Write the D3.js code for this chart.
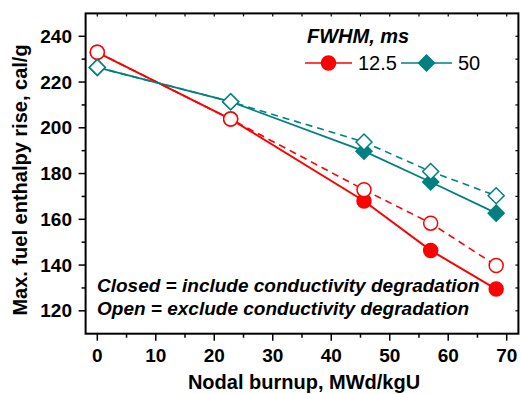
<!DOCTYPE html>
<html>
<head>
<meta charset="utf-8">
<script src="https://cdn.jsdelivr.net/npm/d3@7"></script>
<style>
  html, body { margin: 0; padding: 0; background: #fff; }
  svg { display: block; font-family: "Liberation Sans", Arial, sans-serif; }
</style>
</head>
<body>
<svg id="chart" width="522" height="394"></svg>
<script>
// ---- data ----
const burnup = [0, 22.8, 45.6, 57.0, 68.2];
const fwhm125Closed = [233, 203.8, 168.0, 146.4, 129.5];
const fwhm125Open   = [233, 203.8, 172.9, 158.3, 139.8];
const fwhm50Closed  = [226.4, 211.4, 189.8, 176.3, 162.7];
const fwhm50Open    = [226.4, 211.4, 193.8, 180.9, 170.3];
const xTicks = [0, 10, 20, 30, 40, 50, 60, 70];
const yTicks = [120, 140, 160, 180, 200, 220, 240];
const legendLabels = ["12.5", "50"];
const legendTitle = "FWHM, ms";
const noteLines = ["Closed = include conductivity degradation", "Open = exclude conductivity degradation"];
const xTitle = "Nodal burnup, MWd/kgU";
const yTitle = "Max. fuel enthalpy rise, cal/g";

const RED = "#ff0000", TEAL = "#008080";

const svg = d3.select("#chart");
const x = d3.scaleLinear().domain([-2, 72]).range([85.6, 518.4]);
const y = d3.scaleLinear().domain([110, 250]).range([333.7, 13.4]);
const [x0, x1] = x.range();
const [yb, yt] = y.range();

// minor ticks
const xMinor = d3.range(0, 71, 5);
const yMinor = d3.range(120, 250, 10);

const axes = svg.append("g").attr("stroke", "#000").attr("fill", "none");
// bottom ticks (outward)
xMinor.forEach(v => {
  const major = v % 10 === 0;
  axes.append("line").attr("x1", x(v)).attr("x2", x(v)).attr("y1", yb).attr("y2", yb + (major ? 7 : 4)).attr("stroke-width", 1.5);
  axes.append("line").attr("x1", x(v)).attr("x2", x(v)).attr("y1", yt).attr("y2", yt + (major ? 3 : 3)).attr("stroke-width", 1.2);
});
yMinor.forEach(v => {
  const major = v % 20 === 0;
  axes.append("line").attr("y1", y(v)).attr("y2", y(v)).attr("x1", x0).attr("x2", x0 - (major ? 7 : 4)).attr("stroke-width", 1.5);
  axes.append("line").attr("y1", y(v)).attr("y2", y(v)).attr("x1", x1).attr("x2", x1 - 3).attr("stroke-width", 1.2);
});
// frame
axes.append("rect").attr("x", x0).attr("y", yt).attr("width", x1 - x0).attr("height", yb - yt).attr("stroke-width", 2);

// tick labels
const tl = svg.append("g").attr("font-size", 19).attr("font-weight", "bold").attr("fill", "#000");
xTicks.forEach(v => tl.append("text").attr("x", x(v)).attr("y", 361.5).attr("text-anchor", "middle").text(v));
yTicks.forEach(v => tl.append("text").attr("x", 72).attr("y", y(v)).attr("dy", "0.35em").attr("text-anchor", "end").text(v));

// axis titles
svg.append("text").attr("x", 304).attr("y", 389).attr("text-anchor", "middle")
  .attr("font-size", 20).attr("font-weight", "bold").text(xTitle);
svg.append("text").attr("transform", "translate(27,180) rotate(-90)").attr("text-anchor", "middle")
  .attr("font-size", 20).attr("font-weight", "bold").text(yTitle);

// series
const series = [
  { vals: fwhm125Closed, color: RED, open: false, shape: "circle", dash: null, w: 2 },
  { vals: fwhm50Closed, color: TEAL, open: false, shape: "diamond", dash: null, w: 1.8 },
  { vals: fwhm125Open, color: RED, open: true, shape: "circle", dash: "7,5", w: 1.6 },
  { vals: fwhm50Open, color: TEAL, open: true, shape: "diamond", dash: "7,5", w: 1.6 },
];
const line = d3.line().x((d, i) => x(burnup[i])).y(d => y(d));
const lg = svg.append("g");
series.forEach(s => {
  lg.append("path").datum(s.vals).attr("d", line).attr("fill", "none")
    .attr("stroke", s.color).attr("stroke-width", s.w)
    .attr("stroke-dasharray", s.dash);
});
const circleSym = d3.symbol().type(d3.symbolCircle).size(Math.PI * 49);
function diamondPath(cx, cy, r) {
  return `M${cx},${cy - r}L${cx + r},${cy}L${cx},${cy + r}L${cx - r},${cy}Z`;
}
function drawMarker(g, shape, cx, cy, color, open) {
  if (shape === "circle") {
    g.append("path").attr("d", circleSym()).attr("transform", `translate(${cx},${cy})`)
      .attr("fill", open ? "#fff" : color).attr("stroke", color).attr("stroke-width", 1.5);
  } else {
    g.append("path").attr("d", diamondPath(cx, cy, 8))
      .attr("fill", open ? "#fff" : color).attr("stroke", color).attr("stroke-width", 1.5);
  }
}
const mg = svg.append("g");
series.forEach(s => {
  s.vals.forEach((v, i) => drawMarker(mg, s.shape, x(burnup[i]), y(v), s.color, s.open));
});

// legend
svg.append("text").attr("x", 307).attr("y", 43).attr("font-size", 20)
  .attr("font-weight", "bold").attr("font-style", "italic").text(legendTitle);
const leg = svg.append("g");
const legItems = [
  { label: legendLabels[0], color: RED, shape: "circle", lx0: 305, lx1: 352, tx: 358 },
  { label: legendLabels[1], color: TEAL, shape: "diamond", lx0: 401, lx1: 452, tx: 458 },
];
legItems.forEach(it => {
  leg.append("line").attr("x1", it.lx0).attr("x2", it.lx1).attr("y1", 63).attr("y2", 63)
    .attr("stroke", it.color).attr("stroke-width", 1.6);
  drawMarker(leg, it.shape, (it.lx0 + it.lx1) / 2, 63, it.color, false);
  leg.append("text").attr("x", it.tx).attr("y", 70).attr("font-size", 20).text(it.label);
});

// notes
noteLines.forEach((t, i) => {
  svg.append("text").attr("x", 97).attr("y", 292 + i * 23).attr("font-size", 19)
    .attr("font-weight", "bold").attr("font-style", "italic").text(t);
});
</script>
</body>
</html>
